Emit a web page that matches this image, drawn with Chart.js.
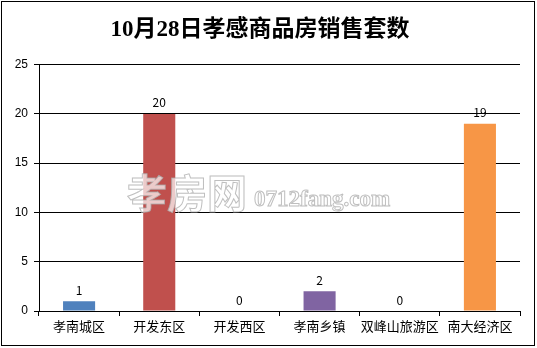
<!DOCTYPE html>
<html>
<head>
<meta charset="utf-8">
<script src="https://cdn.jsdelivr.net/npm/chart.js@4/dist/chart.umd.min.js"></script>
<style>
    html, body { margin: 0; padding: 0; background: #fff; }
    #wrap { width: 537px; height: 348px; position: relative; }
</style>
</head>
<body>
<div id="wrap"><canvas id="chart" width="537" height="348"></canvas></div>
<script>
let titleText = '10月28日孝感商品房销售套数';
let districts = ['孝南城区', '开发东区', '开发西区', '孝南乡镇', '双峰山旅游区', '南大经济区'];
let sales = [1, 20, 0, 2, 0, 19];
let barColors = ['#4F81BD', '#C0504D', '#9BBB59', '#8064A2', '#4BACC6', '#F79646'];

let cjk = '"Noto Sans CJK SC", sans-serif';

// value labels above each bar
let valueLabels = {
    id: 'valueLabels',
    afterDatasetsDraw(chart) {
        let ctx = chart.ctx;
        let meta = chart.getDatasetMeta(0);
        ctx.save();
        ctx.font = '12px ' + cjk;
        ctx.fillStyle = '#000';
        ctx.textAlign = 'center';
        ctx.textBaseline = 'middle';
        meta.data.forEach((bar, i) => {
            ctx.fillText(String(sales[i]), bar.x, bar.y - 11);
        });
        ctx.restore();
    }
};

// site watermark and outer frame
let decor = {
    id: 'decor',
    afterDraw(chart) {
        let ctx = chart.ctx;
        ctx.save();
        ctx.lineWidth = 1;
        ctx.fillStyle = 'rgba(255,255,255,0.7)';
        ctx.strokeStyle = 'rgba(170,170,170,0.75)';
        ctx.textBaseline = 'alphabetic';
        ctx.textAlign = 'left';
        ctx.font = 'bold 40px ' + cjk;
        ctx.fillText('孝房网', 127, 208);
        ctx.strokeText('孝房网', 127, 208);
        ctx.font = 'bold 23px "Liberation Serif", serif';
        ctx.fillText('0712fang.com', 254, 206);
        ctx.strokeText('0712fang.com', 254, 206);

        ctx.strokeStyle = '#000';
        ctx.lineWidth = 1;
        ctx.strokeRect(1.5, 1.5, 533, 344);
        ctx.restore();
    }
};

new Chart(document.getElementById('chart'), {
    type: 'bar',
    data: {
        labels: districts,
        datasets: [{
            data: sales,
            backgroundColor: barColors,
            borderWidth: 0,
            barPercentage: 0.4,
            categoryPercentage: 1
        }]
    },
    options: {
        responsive: false,
        animation: false,
        layout: {
            padding: { top: 0, right: 17, bottom: 0, left: 0 }
        },
        plugins: {
            legend: { display: false },
            tooltip: { enabled: false },
            title: {
                display: true,
                text: titleText,
                color: '#000',
                font: { family: '"Liberation Serif", "Noto Sans CJK SC", serif', size: 23, weight: 'bold' },
                padding: { top: 16, bottom: 21 }
            }
        },
        scales: {
            x: {
                grid: {
                    drawOnChartArea: false,
                    drawTicks: true,
                    tickLength: 5,
                    color: '#000',
                    offset: true
                },
                border: { color: '#000', width: 1 },
                ticks: {
                    color: '#000',
                    font: { family: cjk, size: 13 },
                    padding: 2,
                    maxRotation: 0,
                    autoSkip: false
                },
                afterFit(scale) { scale.height = 37; }
            },
            y: {
                min: 0,
                max: 25,
                ticks: {
                    stepSize: 5,
                    color: '#000',
                    font: { family: '"Liberation Sans", sans-serif', size: 12 },
                    padding: 6
                },
                grid: {
                    color: '#000',
                    lineWidth: 1,
                    tickLength: 5
                },
                border: { color: '#000', width: 1 },
                afterFit(scale) { scale.width = 39; }
            }
        }
    },
    plugins: [valueLabels, decor]
});
</script>
</body>
</html>
